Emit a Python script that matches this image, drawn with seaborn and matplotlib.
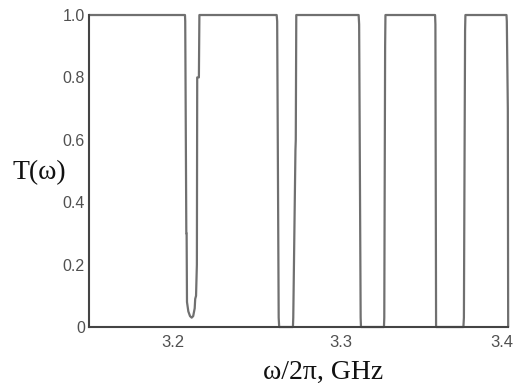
import matplotlib
matplotlib.use("Agg")
import matplotlib.pyplot as plt
import matplotlib.transforms as mtransforms
import seaborn as sns
import pandas as pd

# Transmission spectrum (frequency in GHz, T)
freq = [3.1500, 3.2072, 3.20735, 3.2080, 3.20818, 3.2084, 3.2092, 3.2102, 3.2112,
        3.2121, 3.2130, 3.2133, 3.2138, 3.2143, 3.2145, 3.2155, 3.2158,
        3.2619, 3.2622, 3.2631, 3.2634, 3.2716, 3.2718, 3.2731, 3.2733, 3.2736,
        3.3108, 3.3111, 3.3120, 3.3122, 3.3259, 3.3261, 3.3266, 3.3268,
        3.3564, 3.3566, 3.3570, 3.3733, 3.3736, 3.3743, 3.3745,
        3.3990, 3.3992, 3.3998, 3.4000]
trans = [1.00, 1.00, 0.98, 0.30, 0.30, 0.08, 0.05, 0.035, 0.03,
         0.035, 0.06, 0.09, 0.10, 0.20, 0.80, 0.80, 1.00,
         1.00, 0.98, 0.03, 0.00, 0.00, 0.03, 0.567, 0.60, 1.00,
         1.00, 0.97, 0.03, 0.00, 0.00, 0.03, 0.90, 1.00,
         1.00, 0.97, 0.00, 0.00, 0.03, 0.95, 1.00,
         1.00, 0.98, 0.70, 0.00]

x_ticks = [3.2, 3.3, 3.4]
x_tick_labels = ["3.2", "3.3", "3.4"]
y_ticks = [0, 0.2, 0.4, 0.6, 0.8, 1.0]
y_tick_labels = ["0", "0.2", "0.4", "0.6", "0.8", "1.0"]

df = pd.DataFrame({"f": freq, "T": trans})

sns.set_style("white")
fig = plt.figure(figsize=(5.18, 3.90), dpi=100)
ax = fig.add_axes([0.172, 0.1615, 0.809, 0.80])

sns.lineplot(data=df, x="f", y="T", sort=False, estimator=None,
             color="#707070", linewidth=1.6, ax=ax, clip_on=False)

ax.set_xlim(3.15, 3.4)
ax.set_ylim(0, 1.0)
ax.set_xticks(x_ticks)
ax.set_xticklabels(x_tick_labels)
ax.set_yticks(y_ticks)
ax.set_yticklabels(y_tick_labels)

for s in ["top", "right"]:
    ax.spines[s].set_visible(False)
for s in ["left", "bottom"]:
    ax.spines[s].set_color("#444444")
    ax.spines[s].set_linewidth(1.5)

ax.tick_params(direction="in", length=7, width=1.3, color="#444444",
               labelcolor="#505050", labelsize=11.5, pad=3)
ax.tick_params(axis="x", pad=6, labelsize=12)
for lab in ax.get_xticklabels() + ax.get_yticklabels():
    lab.set_family("Liberation Sans")

# keep the last x tick label inside the figure
last = ax.get_xticklabels()[-1]
last.set_transform(last.get_transform() +
                   mtransforms.ScaledTranslation(-6 / 100, 0, fig.dpi_scale_trans))

ax.set_xlabel("")
ax.set_ylabel("")
fig.text(0.025, 0.558, "T(ω)", family="Liberation Serif", fontsize=20,
         ha="left", va="center", color="#111111")
fig.text(0.6245, 0.044, "ω/2π, GHz", family="Liberation Serif", fontsize=20,
         ha="center", va="center", color="#111111")

fig.savefig("out.png", dpi=100)
